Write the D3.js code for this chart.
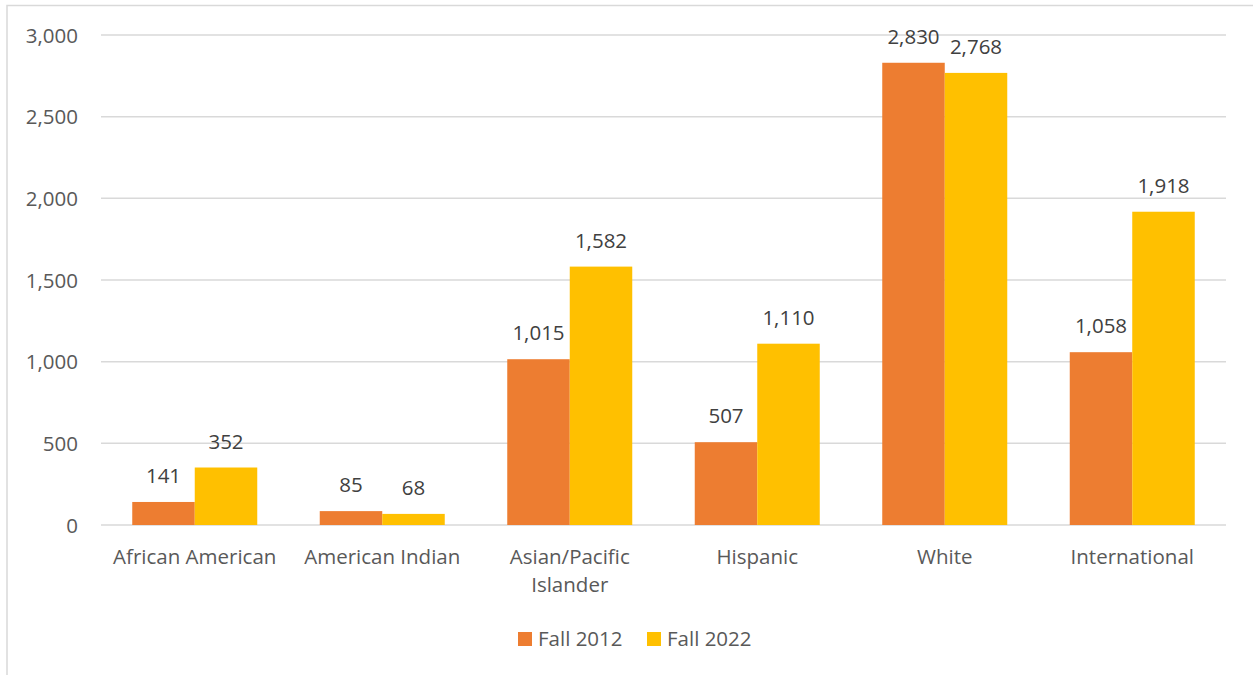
<!DOCTYPE html>
<html><head><meta charset="utf-8">
<script src="https://cdn.jsdelivr.net/npm/d3@7"></script>
<style>
html,body{margin:0;padding:0;background:#fff;}
svg text{font-family:"Open Sans","Noto Sans",sans-serif;fill:#595959;}
</style></head>
<body>
<svg id="chart" width="1253" height="675"></svg>
<script>
const categories = [["African American"], ["American Indian"], ["Asian/Pacific", "Islander"], ["Hispanic"], ["White"], ["International"]];
const seriesNames = ["Fall 2012", "Fall 2022"];
const fall2012 = [141, 85, 1015, 507, 2830, 1058];
const fall2022 = [352, 68, 1582, 1110, 2768, 1918];
const yTicks = [0, 500, 1000, 1500, 2000, 2500, 3000];
const colors = ["#ED7D31", "#FFC000"];

const svg = d3.select("#chart");
const margin = {left: 101, right: 1226, top: 35, bottom: 525};
const fs = "20.5px";

// chart border
svg.append("rect").attr("x", 7).attr("y", 5.5).attr("width", 1260).attr("height", 700)
  .attr("fill", "none").attr("stroke", "#d9d9d9").attr("stroke-width", 1.5);

const catKeys = categories.map(c => c.join(" "));
const x = d3.scaleBand().domain(catKeys).range([margin.left, margin.right]).paddingInner(1/3).paddingOuter(1/6);
const xs = d3.scaleBand().domain(seriesNames).range([0, x.bandwidth()]);
const y = d3.scaleLinear().domain([0, 3000]).range([margin.bottom, margin.top]);

// gridlines
svg.append("g").selectAll("line").data(yTicks).join("line")
  .attr("x1", margin.left).attr("x2", margin.right)
  .attr("y1", d => y(d)).attr("y2", d => y(d))
  .attr("stroke", "#d9d9d9").attr("stroke-width", 1.5);

// y axis labels
const yAxis = d3.axisLeft(y).tickValues(yTicks).tickFormat(d3.format(",")).tickSize(0).tickPadding(0);
const gy = svg.append("g").attr("transform", `translate(78,0)`).call(yAxis);
gy.select(".domain").remove();
gy.selectAll("text").style("font-size", fs).attr("fill", "#595959").attr("font-family", null).attr("dy", "0.35em");

const data = catKeys.map((k, i) => ({key: k, vals: [fall2012[i], fall2022[i]]}));

const groups = svg.append("g").selectAll("g").data(data).join("g")
  .attr("transform", d => `translate(${x(d.key)},0)`);

groups.selectAll("rect").data(d => d.vals.map((v, j) => ({v, s: seriesNames[j], j}))).join("rect")
  .attr("x", d => xs(d.s)).attr("width", xs.bandwidth())
  .attr("y", d => y(d.v)).attr("height", d => y(0) - y(d.v))
  .attr("fill", d => colors[d.j]);

groups.selectAll("text.lbl").data(d => d.vals.map((v, j) => ({v, s: seriesNames[j], j}))).join("text")
  .attr("class", "lbl")
  .attr("x", d => xs(d.s) + xs.bandwidth() / 2)
  .attr("y", d => y(d.v) - 19)
  .attr("text-anchor", "middle").style("font-size", fs).style("fill", "#404040")
  .text(d => d3.format(",")(d.v));

// x axis labels
const xl = svg.append("g").selectAll("text").data(categories).join("text")
  .attr("x", (d, i) => x(catKeys[i]) + x.bandwidth() / 2)
  .attr("y", 564)
  .attr("text-anchor", "middle").style("font-size", fs);
xl.selectAll("tspan").data(d => d).join("tspan")
  .attr("x", function() { return d3.select(this.parentNode).attr("x"); })
  .attr("dy", (d, i) => i === 0 ? 0 : 28)
  .text(d => d);

// legend
const legendX = [518, 647];
const lg = svg.append("g").selectAll("g").data(seriesNames).join("g")
  .attr("transform", (d, i) => `translate(${legendX[i]},632)`);
lg.append("rect").attr("width", 14).attr("height", 14).attr("fill", (d, i) => colors[i]);
lg.append("text").attr("x", 20).attr("y", 14).style("font-size", fs).text(d => d);
</script>
</body></html>
